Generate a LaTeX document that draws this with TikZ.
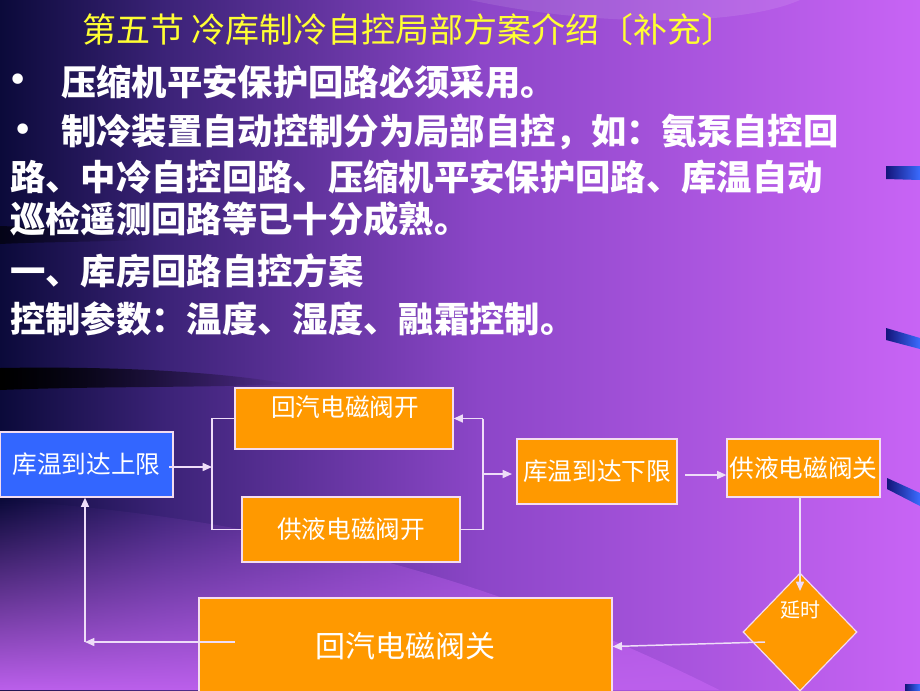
\documentclass[tikz,border=0pt]{standalone}
\usepackage{fontspec}
\newfontfamily\cjk{Noto Sans CJK SC}
\newfontfamily\djv{DejaVu Sans}
\usetikzlibrary{arrows.meta,shapes.geometric,fadings}
\definecolor{bgzero}{HTML}{0B0A3A}
\definecolor{bgone}{HTML}{3A2276}
\definecolor{bgtwo}{HTML}{8C46C8}
\definecolor{bgthree}{HTML}{C864F5}
\definecolor{bglow}{HTML}{BC60EC}
\definecolor{titley}{HTML}{FFFF33}
\definecolor{orangebox}{HTML}{FF9900}
\definecolor{bluebox}{HTML}{3366FF}
\definecolor{boxline}{HTML}{F4DCF0}
\definecolor{linec}{HTML}{EEDDF8}
\definecolor{barzero}{HTML}{14147A}
\definecolor{barone}{HTML}{3A6CFF}
\tikzfading[name=fadeup, top color=transparent!100, bottom color=transparent!0]
\tikzfading[name=faderight, left color=transparent!0, right color=transparent!100]
\tikzset{
  headtext/.style={font=\cjk\fontsize{25.5}{30}\selectfont, text=titley, inner sep=0pt, anchor=west},
  bodytext/.style={font=\cjk\bfseries\fontsize{26.5}{30}\selectfont, text=white, inner sep=0pt, anchor=west},
  bullettext/.style={font=\djv\fontsize{27}{30}\selectfont, text=white, inner sep=0pt},
  box/.style={draw=boxline, line width=0.9pt, inner sep=0pt, text=white, font=\cjk\fontsize{18.5}{22}\selectfont},
  obox/.style={box, fill=orangebox},
  diagtext/.style={text=white, inner sep=0pt, font=\cjk\fontsize{18.5}{22}\selectfont},
  conn/.style={draw=linec, line width=1.1pt},
  arr/.style={conn, -{Triangle[length=7pt,width=6pt]}},
  bar/.style={left color=barzero, right color=barone}
}
\begin{document}
\begin{tikzpicture}[x=0.75pt,y=-0.75pt]
\useasboundingbox (0,0) rectangle (920,690);
% background
\shade[left color=bgzero,right color=bgone] (0,0) rectangle (161,690);
\shade[left color=bgone,right color=bgtwo] (160,0) rectangle (481,690);
\shade[left color=bgtwo,right color=bgthree] (480,0) rectangle (920,690);
\fill[bglow, path fading=fadeup] (0,500) .. controls (300,520) and (520,590) .. (720,690) -- (0,690) -- cycle;
\fill[white, opacity=0.10] (470,0) .. controls (600,28) and (740,26) .. (800,0) -- cycle;
\fill[black, path fading=faderight] (0,368) .. controls (120,366) and (220,372) .. (290,384) .. controls (200,388) and (100,386) .. (0,390) -- cycle;
\fill[black, opacity=0.6, path fading=faderight] (0,226) .. controls (60,228) and (100,232) .. (140,240) .. controls (90,242) and (40,242) .. (0,244) -- cycle;
% right edge bars
\shade[bar] (886,166) -- (920,166) -- (920,180) -- (886,179) -- cycle;
\shade[bar] (886,328) -- (920,338) -- (920,349) -- (886,340) -- cycle;
\shade[bar] (887,478) -- (920,493) -- (920,506) -- (887,489) -- cycle;
\shade[bar] (905,684) -- (920,684) -- (920,690) -- (905,690) -- cycle;
% texts
\node[headtext] (title) at (82,30) {第五节 冷库制冷自控局部方案介绍〔补充〕};
\node[bullettext] (b1) at (18,83) {•};
\node[bodytext] (l1) at (61,82) {压缩机平安保护回路必须采用。};
\node[bullettext] (b2) at (23,133) {•};
\node[bodytext] (l2) at (61,132) {制冷装置自动控制分为局部自控，如：氨泵自控回};
\node[bodytext] (l3) at (10,177) {路、中冷自控回路、压缩机平安保护回路、库温自动};
\node[bodytext] (l4) at (10,219) {巡检遥测回路等已十分成熟。};
\node[bodytext] (l5) at (10,271) {一、库房回路自控方案};
\node[bodytext] (l6) at (10,319) {控制参数：温度、湿度、融霜控制。};
% boxes
\node[box, fill=bluebox, minimum width=129.75pt, minimum height=48.75pt] (up) at (86.5,464.5) {库温到达上限};
\node[obox, minimum width=163.5pt, minimum height=45.75pt] (hq) at (344,418.5) {};
\node[diagtext] (hqt) at (345,407) {回汽电磁阀开};
\node[obox, minimum width=163.5pt, minimum height=48.75pt] (gy) at (351,529.5) {供液电磁阀开};
\node[obox, minimum width=120pt, minimum height=48.75pt] (xx) at (597,471.5) {库温到达下限};
\node[obox, minimum width=114.75pt, minimum height=43.5pt] (gyg) at (803.5,468) {供液电磁阀关};
\node[obox, minimum width=309.75pt, minimum height=72.75pt, font=\cjk\fontsize{22.5}{26}\selectfont] (bb) at (405.5,646.5) {回汽电磁阀关};
\node[obox, diamond, minimum width=85.5pt, minimum height=88.5pt] (dm) at (800,632) {};
\node[diagtext, font=\cjk\fontsize{15}{18}\selectfont] (dmt) at (800,610) {延时};
% connector points
\coordinate (upout) at (169,467);
\coordinate (lbr) at (212,467);
\coordinate (rbr) at (483,474);
\coordinate (xxout) at (685,475);
\coordinate (dtop) at (800,591);
\coordinate (dmout) at (765,642);
\coordinate (bbout) at (235,642);
\coordinate (corner) at (85,642);
% connectors
\draw[arr] (upout) -- (lbr);
\draw[conn] (hq.west) -- (212,418.5) -- (212,529.5) -- (gy.west);
\draw[conn] (gy.east) -- (483,529.5) -- (483,418.5);
\draw[arr] (483,418.5) -- (hq.east);
\draw[arr] (rbr) -- (512,474);
\draw[arr] (xxout) -- (xxout -| gyg.west);
\draw[arr] (gyg.south -| dtop) -- (dtop);
\draw[arr] (dmout) -- (bb.east);
\draw[arr] (bbout) -- (corner);
\draw[arr] (corner) -- (corner |- up.south);
\end{tikzpicture}
\end{document}
